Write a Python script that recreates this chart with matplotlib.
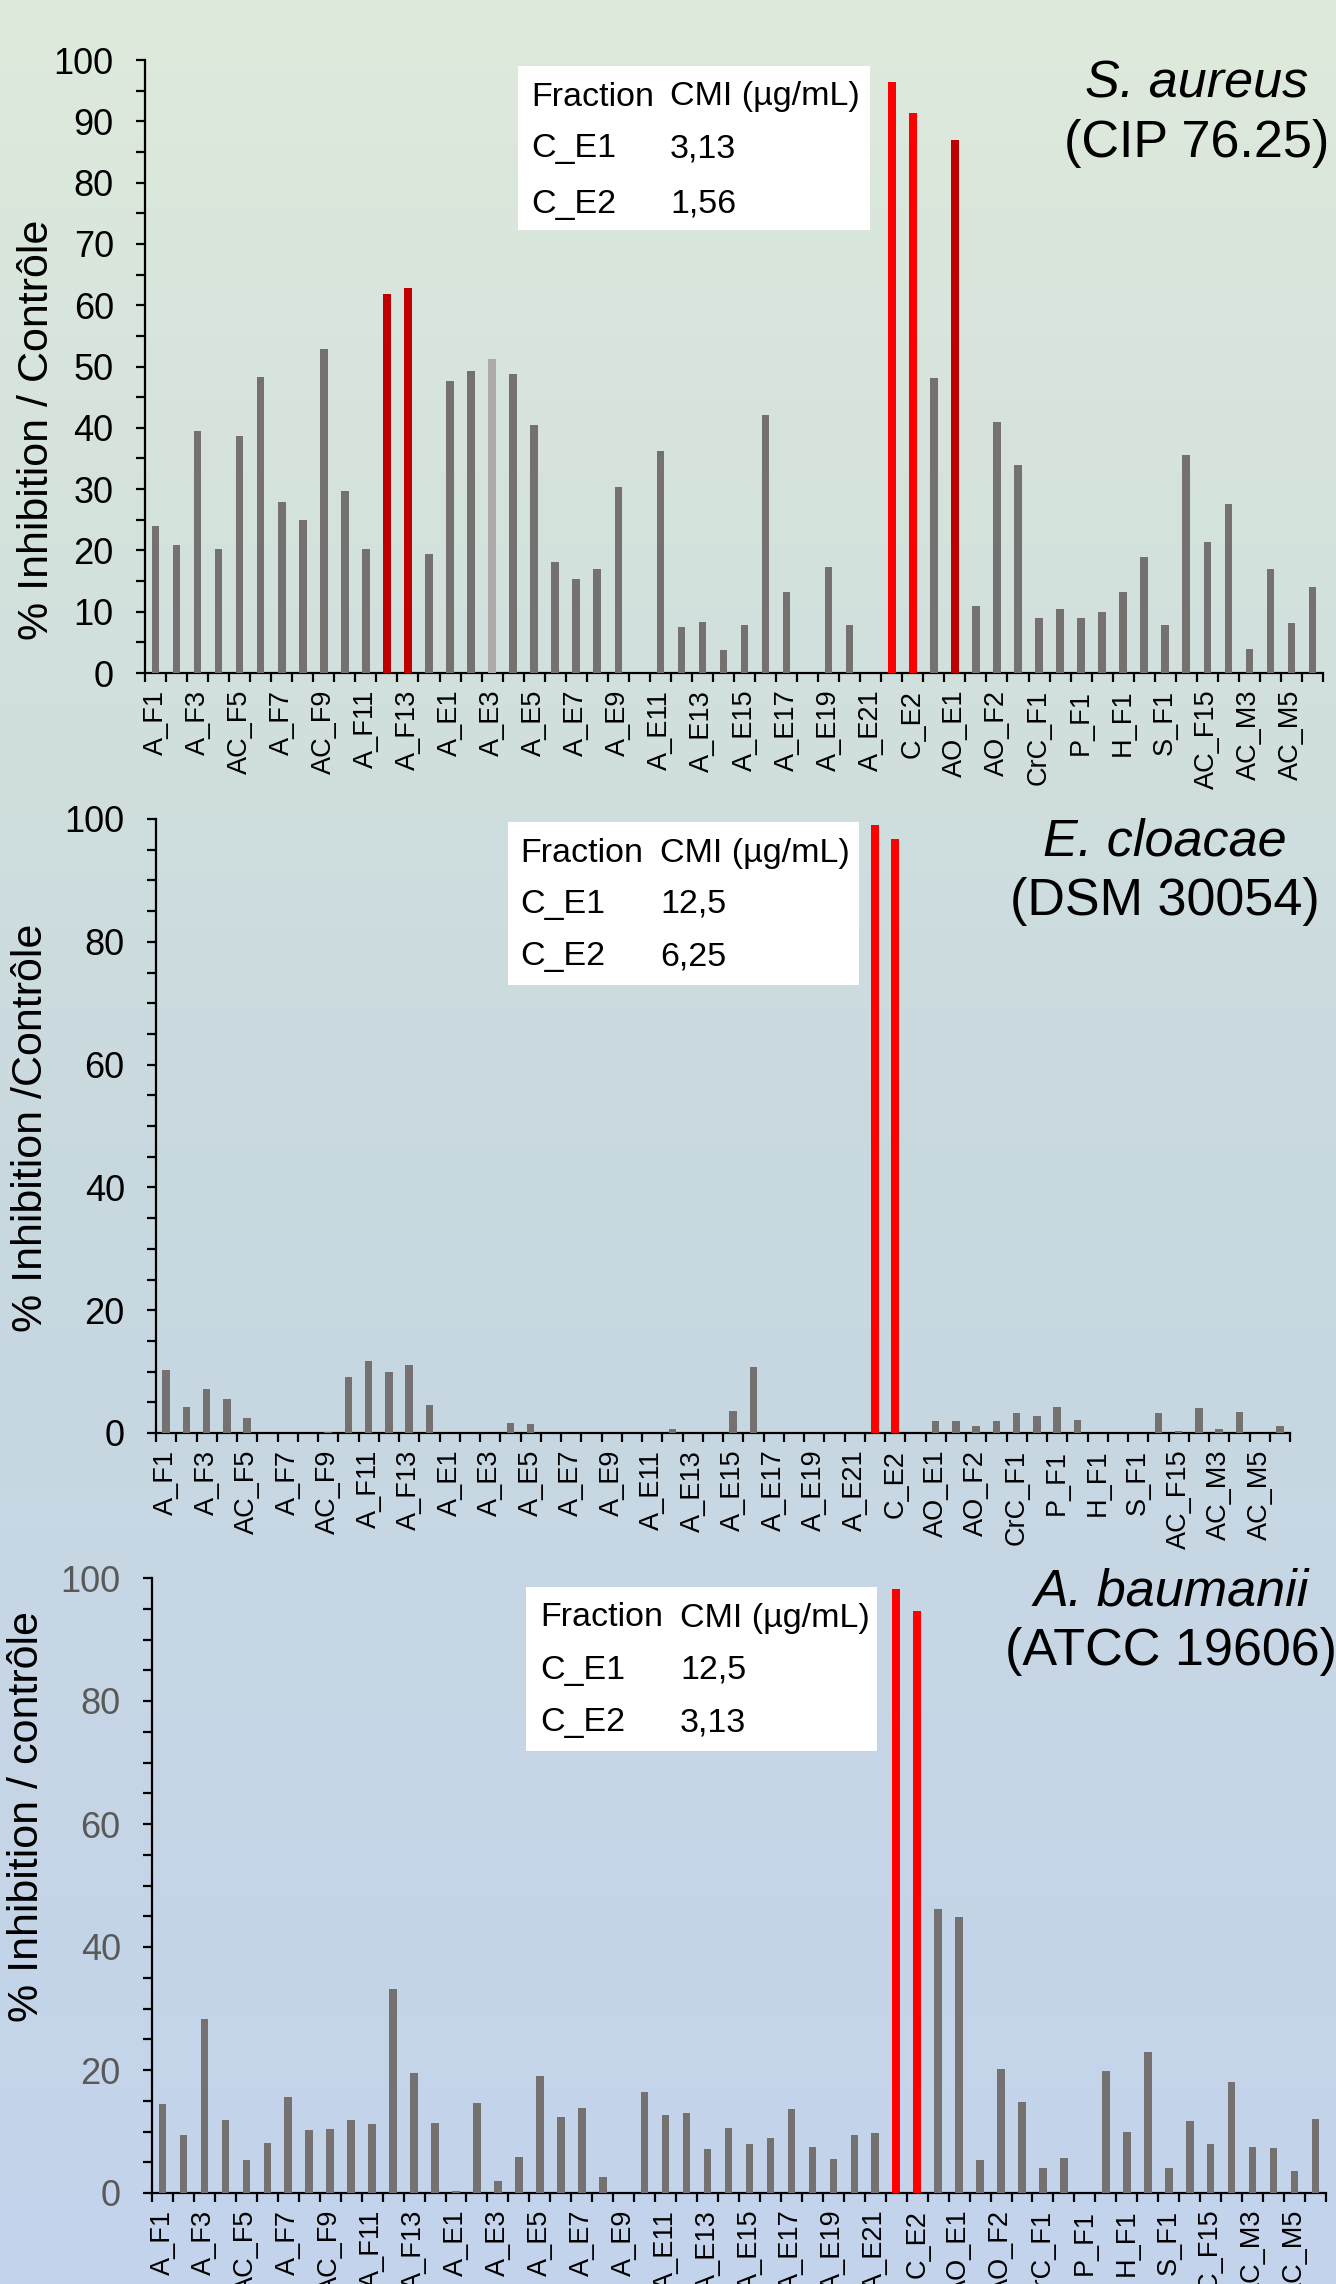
import matplotlib.pyplot as plt
import numpy as np
from matplotlib.patches import Rectangle
from matplotlib.ticker import MultipleLocator, FixedLocator
from matplotlib.colors import LinearSegmentedColormap

plt.rcParams['font.family'] = ['Liberation Sans', 'DejaVu Sans']

# tick labels, shown under every second bar
labels = ['A_F1', 'A_F3', 'AC_F5', 'A_F7', 'AC_F9', 'A_F11', 'A_F13',
          'A_E1', 'A_E3', 'A_E5', 'A_E7', 'A_E9', 'A_E11', 'A_E13',
          'A_E15', 'A_E17', 'A_E19', 'A_E21', 'C_E2', 'AO_E1', 'AO_F2',
          'CrC_F1', 'P_F1', 'H_F1', 'S_F1', 'AC_F15', 'AC_M3', 'AC_M5']

# % inhibition / control, one value per fraction (56 fractions)
saureus = [23.9, 20.9, 39.4, 20.2, 38.7, 48.3, 27.9, 24.9, 52.9, 29.7,
           20.3, 61.9, 62.8, 19.4, 47.6, 49.3, 51.3, 48.7, 40.4, 18.1,
           15.3, 16.9, 30.3, 0, 36.2, 7.5, 8.3, 3.8, 7.9, 42.1,
           13.2, 0, 17.3, 7.9, 0, 96.4, 91.3, 48.1, 86.9, 10.9,
           40.9, 33.9, 8.9, 10.5, 9.0, 9.9, 13.2, 18.9, 7.9, 35.6,
           21.3, 27.5, 3.9, 16.9, 8.2, 14.0]

ecloacae = [10.2, 4.3, 7.1, 5.6, 2.4, 0, 0, 0, 0.2, 9.1,
            11.7, 10.0, 11.0, 4.5, 0, 0, 0, 1.7, 1.4, 0,
            0, 0, 0, 0, 0, 0.7, 0, 0, 3.6, 10.7,
            0, 0, 0, 0, 0, 99.0, 96.8, 0, 1.9, 1.9,
            1.1, 1.9, 3.3, 2.7, 4.3, 2.1, 0, 0, 0, 3.2,
            0.3, 4.0, 0.6, 3.4, 0, 1.2]

abaumanii = [14.4, 9.4, 28.3, 11.8, 5.4, 8.2, 15.6, 10.2, 10.4, 11.8,
             11.3, 33.1, 19.5, 11.4, 0.4, 14.7, 1.9, 5.9, 19.1, 12.3,
             13.9, 2.6, 0, 16.5, 12.7, 13.0, 7.1, 10.6, 7.9, 9.0,
             13.7, 7.5, 5.6, 9.4, 9.8, 98.2, 94.7, 46.1, 44.8, 5.4,
             20.2, 14.8, 4.0, 5.7, 0, 19.9, 9.9, 23.0, 4.0, 11.7,
             8.0, 18.1, 7.4, 7.3, 3.5, 12.0]

# CMI tables
cmi_header = ['Fraction', 'CMI (µg/mL)']
cmi_saureus = [['C_E1', '3,13'], ['C_E2', '1,56']]
cmi_ecloacae = [['C_E1', '12,5'], ['C_E2', '6,25']]
cmi_abaumanii = [['C_E1', '12,5'], ['C_E2', '3,13']]

W, H = 1336, 2284
fig = plt.figure(figsize=(W / 100, H / 100), dpi=100)

# background gradient
bg = fig.add_axes([0, 0, 1, 1], zorder=-10)
cmap = LinearSegmentedColormap.from_list('bg', ['#DEEADB', '#C9D9DF', '#C3D3EC'])
bg.imshow(np.linspace(0, 1, 256).reshape(-1, 1), aspect='auto', cmap=cmap,
          extent=[0, 1, 0, 1])
bg.axis('off')

grey = '#767171'


def fx(x):
    return x / W


def fy(y):
    return 1 - y / H


def panel(box, values, colors, major, ylabel, ylab_xy, tick_color,
          title, subtitle, title_xy, table, table_box, col_x, row_y):
    left, top, right, bottom = box
    ax = fig.add_axes([fx(left), fy(bottom), fx(right) - fx(left), fy(top) - fy(bottom)])
    ax.patch.set_alpha(0)
    x = np.arange(len(values))
    ax.bar(x, values, width=0.36, color=colors, zorder=3)
    ax.set_xlim(-0.5, len(values) - 0.5)
    ax.set_ylim(0, 100)
    for s in ['top', 'right']:
        ax.spines[s].set_visible(False)
    for s in ['left', 'bottom']:
        ax.spines[s].set_linewidth(1.6)
    ax.yaxis.set_major_locator(MultipleLocator(major))
    ax.yaxis.set_minor_locator(MultipleLocator(5))
    ax.tick_params(axis='y', which='both', length=6.5, width=1.6, pad=16,
                   labelsize=26, labelcolor=tick_color)
    ax.set_xticks(np.arange(0, len(values), 2))
    ax.set_xticklabels(labels, rotation=90, fontsize=19.5)
    ax.xaxis.set_minor_locator(FixedLocator(np.arange(-0.5, len(values), 1)))
    ax.tick_params(axis='x', which='major', length=0, pad=12)
    ax.tick_params(axis='x', which='minor', length=6.5, width=1.6)

    fig.text(fx(ylab_xy[0]), fy(ylab_xy[1]), ylabel, rotation=90,
             ha='center', va='center', fontsize=31)
    fig.text(fx(title_xy[0]), fy(title_xy[1]), title, style='italic',
             ha='center', va='center', fontsize=37.5)
    fig.text(fx(title_xy[0]), fy(title_xy[1] + 60), subtitle,
             ha='center', va='center', fontsize=37.5)

    tl, tt, tr, tb = table_box
    fig.patches.append(Rectangle((fx(tl), fy(tb)), fx(tr) - fx(tl), fy(tt) - fy(tb),
                                 transform=fig.transFigure, facecolor='white',
                                 edgecolor='none', zorder=5))
    rows = [cmi_header] + table
    for r, row in enumerate(rows):
        for c, txt in enumerate(row):
            fig.text(fx(col_x[c]), fy(row_y[r]), txt, ha='left', va='center',
                     fontsize=24.5, zorder=6)
    return ax


c1 = [grey] * len(saureus)
c1[11] = c1[12] = c1[38] = '#C00000'
c1[16] = '#AEAAAA'
c1[35] = c1[36] = '#FF0000'

c2 = [grey] * len(ecloacae)
c2[35] = c2[36] = '#FF0000'

c3 = [grey] * len(abaumanii)
c3[35] = c3[36] = '#FF0000'

panel((145, 60, 1323, 673), saureus, c1, 10, '% Inhibition / Contrôle', (37, 430),
      'black', 'S. aureus', '(CIP 76.25)', (1197, 84),
      cmi_saureus, (518, 66, 870, 230), (531, 670), (97, 149, 204))

panel((156, 819, 1290, 1433), ecloacae, c2, 20, '% Inhibition /Contrôle', (31, 1128),
      'black', 'E. cloacae', '(DSM 30054)', (1165, 842),
      cmi_ecloacae, (508, 822, 859, 985), (520, 660), (854, 904, 957))

panel((152, 1578, 1326, 2193), abaumanii, c3, 20, '% Inhibition / contrôle', (27, 1817),
      '#595959', 'A. baumanii', '(ATCC 19606)', (1171, 1592),
      cmi_abaumanii, (526, 1587, 877, 1751), (540, 680), (1618, 1670, 1723))

fig.savefig('out.png', dpi=100)
